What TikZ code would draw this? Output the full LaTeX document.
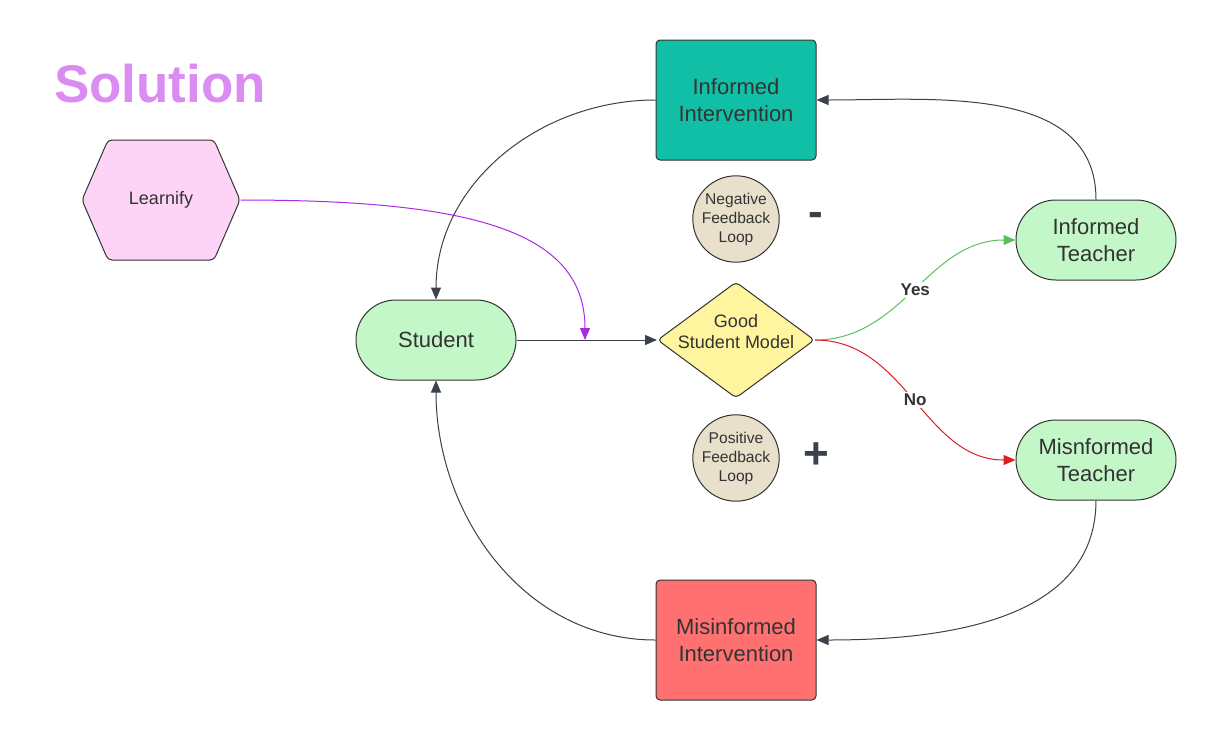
\documentclass[tikz,border=0pt]{standalone}
\usepackage{fontspec}
\setmainfont{Liberation Sans}
\usetikzlibrary{shapes.geometric,arrows.meta}

\definecolor{ink}{HTML}{333333}
\definecolor{edge}{HTML}{3A414A}
\definecolor{titleviolet}{HTML}{DA8CF2}
\definecolor{hexpink}{HTML}{FDD4F6}
\definecolor{pillgreen}{HTML}{C3F7C8}
\definecolor{modelyellow}{HTML}{FFF59E}
\definecolor{goodteal}{HTML}{10BFA6}
\definecolor{badred}{HTML}{FF7070}
\definecolor{loopbeige}{HTML}{E8E0CB}
\definecolor{learnviolet}{HTML}{A829E6}
\definecolor{yesgreen}{HTML}{5CBF5C}
\definecolor{nored}{HTML}{D92020}

\begin{document}
\begin{tikzpicture}[x=0.5pt, y=-0.5pt, line width=0.5pt,
		box/.style={draw=ink, text=ink, align=center, font=\fontsize{11}{13.5}\selectfont},
		pill/.style={box, fill=pillgreen, rounded corners=19.9pt, minimum width=80pt, minimum height=40pt},
		block/.style={box, rounded corners=2pt, minimum width=80pt, minimum height=60pt},
		decision/.style={box, diamond, fill=modelyellow, aspect=1.35, inner sep=0pt, minimum width=78.5pt, minimum height=58pt, rounded corners=2pt},
		loopdot/.style={box, circle, fill=loopbeige, minimum size=40pt, inner sep=0pt, font=\fontsize{7.8}{9.5}\selectfont},
		sign/.style={text=edge, font=\fontsize{22}{24}\selectfont\bfseries},
		answer/.style={fill=white, text=ink, inner sep=1pt, font=\fontsize{8.5}{10}\selectfont\bfseries},
		link/.style={draw=edge, -{Triangle[length=6pt,width=5pt]}},
		]
		\useasboundingbox (0,0) rectangle (1216,740);
		\node[text=titleviolet, font=\fontsize{26.5}{30}\selectfont\bfseries] (title) at (160,84) {Solution};
		% hexagon drawn first, label on top
		\draw[draw=ink, fill=hexpink, rounded corners=2pt] (82,200) -- (108,140) -- (214,140) -- (240,200) -- (214,260) -- (108,260) -- cycle;
		\node[text=ink, minimum width=79pt, inner sep=0pt, font=\fontsize{9}{10.5}\selectfont] (lrn) at (161,200) {Learnify};
		\node[pill] (stu) at (436,340) {Student};
		\node[decision, label={[text=ink, align=center, yshift=4pt, font=\fontsize{9}{10.5}\selectfont]center:Good\\Student Model}] (gsm) at (736,340) {};
		\node[block, fill=goodteal] (ii) at (736,100) {Informed\\Intervention};
		\node[block, fill=badred] (mi) at (736,640) {Misinformed\\Intervention};
		\node[pill] (it) at (1096,240) {Informed\\Teacher};
		\node[pill] (mt) at (1096,460) {Misnformed\\Teacher};
		\node[loopdot] (nfl) at (736,219) {Negative\\Feedback\\Loop};
		\node[loopdot] (pfl) at (736,458) {Positive\\Feedback\\Loop};
		\node[sign] (neg) at (816,219) {-};
		\node[sign] (pos) at (816,456) {+};
		\coordinate (join) at (585,340);
		\draw[link] (stu) -- (gsm);
		\draw[link, draw=learnviolet] (lrn.east) .. controls (470,200) and (585,230) .. (join);
		\draw[link] (ii.west) to[out=180, in=90] (stu.north);
		\draw[link] (mi.west) to[out=180, in=270] (stu.south);
		\draw[link] (it.north) to[out=90, in=0] (ii.east);
		\draw[link] (mt.south) to[out=270, in=0] (mi.east);
		\draw[link, draw=yesgreen] (gsm.east) to[out=0, in=180] node[answer]{Yes} (it.west);
		\draw[link, draw=nored] (gsm.east) to[out=0, in=180] node[answer]{No} (mt.west);
\end{tikzpicture}
\end{document}
